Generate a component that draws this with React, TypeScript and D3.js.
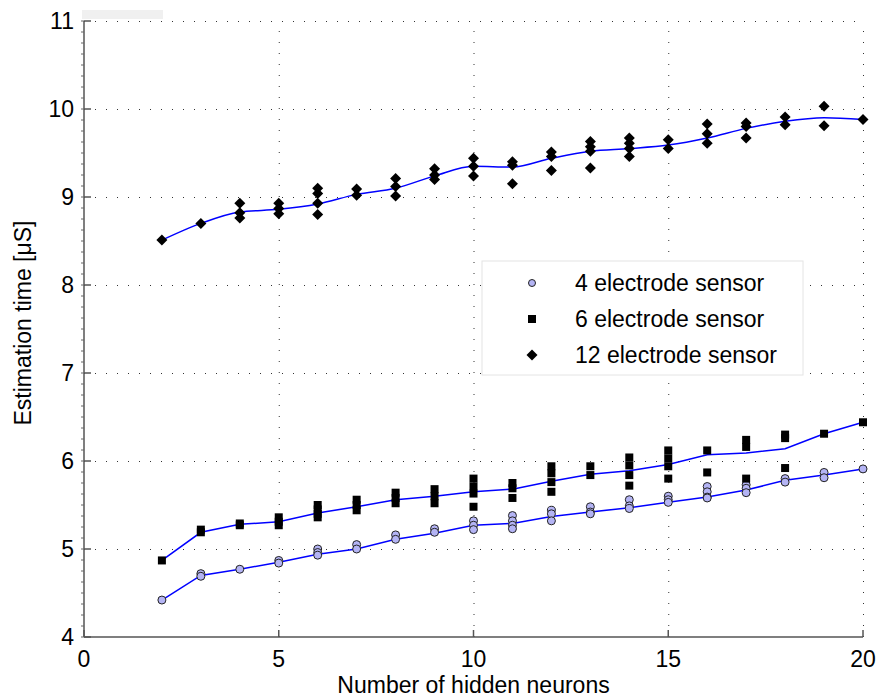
import React from 'react';
import * as d3 from 'd3';

// hidden neuron counts used on the x axis
const neurons = [2, 3, 4, 5, 6, 7, 8, 9, 10, 11, 12, 13, 14, 15, 16, 17, 18, 19, 20];

// individual runs, one list per neuron count
const runs4 = [
    [4.42], [4.72, 4.69], [4.77], [4.87, 4.84], [5.0, 4.96, 4.93], [5.05, 5.0],
    [5.16, 5.11], [5.23, 5.19], [5.32, 5.27, 5.22], [5.38, 5.32, 5.27, 5.23],
    [5.44, 5.4, 5.32], [5.48, 5.42, 5.4], [5.56, 5.49, 5.46], [5.6, 5.56, 5.53],
    [5.71, 5.65, 5.59, 5.58], [5.73, 5.69, 5.64], [5.8, 5.76], [5.87, 5.81], [5.91]
];
const runs6 = [
    [4.87], [5.22, 5.19], [5.29, 5.27], [5.36, 5.31, 5.27], [5.5, 5.45, 5.4, 5.36],
    [5.56, 5.5, 5.44], [5.64, 5.58, 5.52], [5.68, 5.6, 5.52], [5.8, 5.71, 5.63, 5.48],
    [5.75, 5.69, 5.58], [5.94, 5.86, 5.76, 5.65], [5.94, 5.84], [6.04, 5.95, 5.84, 5.72],
    [6.12, 6.03, 5.94, 5.8], [6.12, 5.87], [6.24, 6.16, 5.8], [6.3, 6.26, 5.92], [6.31], [6.44]
];
const runs12 = [
    [8.51], [8.7], [8.93, 8.82, 8.76], [8.93, 8.87, 8.81], [9.1, 9.04, 8.93, 8.8],
    [9.09, 9.02], [9.21, 9.12, 9.01], [9.32, 9.25, 9.2], [9.44, 9.35, 9.24],
    [9.4, 9.36, 9.15], [9.51, 9.46, 9.3], [9.63, 9.57, 9.52, 9.33], [9.67, 9.61, 9.55, 9.46],
    [9.65, 9.55], [9.83, 9.72, 9.61], [9.84, 9.8, 9.67], [9.91, 9.82], [10.03, 9.81], [9.88]
];

// mean curves (blue lines)
const mean4 = [4.42, 4.7, 4.77, 4.85, 4.94, 5.0, 5.11, 5.18, 5.27, 5.29, 5.37, 5.42, 5.47, 5.53, 5.59, 5.67, 5.78, 5.84, 5.91];
const mean6 = [4.87, 5.19, 5.28, 5.31, 5.41, 5.48, 5.56, 5.6, 5.65, 5.68, 5.77, 5.85, 5.89, 5.96, 6.07, 6.09, 6.14, 6.31, 6.44];
const mean12 = [8.51, 8.7, 8.83, 8.86, 8.92, 9.03, 9.1, 9.24, 9.35, 9.34, 9.44, 9.52, 9.55, 9.59, 9.67, 9.78, 9.86, 9.9, 9.88];

const xTicks = [0, 5, 10, 15, 20];
const yTicks = [4, 5, 6, 7, 8, 9, 10, 11];
const legendLabels = ['4 electrode sensor', '6 electrode sensor', '12 electrode sensor'];

const W = 877;
const H = 698;
const font = 'Arial, "Liberation Sans", sans-serif';
const fontSize = 23;

function Marker({ kind, cx, cy, r = 4 }) {
    if (kind === 'circle') {
        return <circle cx={cx} cy={cy} r={r} fill="#b4b4f4" stroke="#222" strokeWidth={1} />;
    }
    if (kind === 'square') {
        return <rect x={cx - 4} y={cy - 4} width={8} height={8} fill="#000" />;
    }
    const d = 5.5;
    return (
        <path
            d={`M${cx},${cy - d}L${cx + d},${cy}L${cx},${cy + d}L${cx - d},${cy}Z`}
            fill="#000"
        />
    );
}

export default function App() {
    const x = d3.scaleLinear().domain([0, 20]).range([84, 863]);
    const y = d3.scaleLinear().domain([4, 11]).range([637, 21]);

    const makeLine = (curve) =>
        d3
            .line()
            .x((d, i) => x(neurons[i]))
            .y((d) => y(d))
            .curve(curve);

    const series = [
        { runs: runs4, mean: mean4, kind: 'circle', curve: d3.curveLinear },
        { runs: runs6, mean: mean6, kind: 'square', curve: d3.curveLinear },
        { runs: runs12, mean: mean12, kind: 'diamond', curve: d3.curveMonotoneX }
    ];

    const minorY = d3.range(4, 11.0001, 0.125);

    return (
        <div style={{ position: 'fixed', left: 0, top: 0 }}>
            <svg width={W} height={H} style={{ display: 'block', background: '#fff' }}>
                <rect x={82} y={10} width={81} height={9} fill="#f0f0f0" />

                {/* grid */}
                <g stroke="#333" strokeWidth={1} strokeDasharray="1,10">
                    {xTicks.slice(1).map((t) => (
                        <line key={'gx' + t} x1={x(t) + 0.5} x2={x(t) + 0.5} y1={y(4)} y2={y(11)} />
                    ))}
                    {yTicks.slice(1).map((t) => (
                        <line key={'gy' + t} x1={x(0)} x2={x(20)} y1={y(t) + 0.5} y2={y(t) + 0.5} />
                    ))}
                </g>

                {/* axes */}
                <g stroke="#555" strokeWidth={1.5}>
                    <line x1={x(0)} x2={x(0)} y1={y(11)} y2={y(4)} />
                    <line x1={x(0)} x2={x(20)} y1={y(4)} y2={y(4)} />
                    {xTicks.map((t) => (
                        <line key={'tx' + t} x1={x(t)} x2={x(t)} y1={y(4)} y2={y(4) - 7} />
                    ))}
                    {yTicks.map((t) => (
                        <line key={'ty' + t} x1={x(0)} x2={x(0) + 7} y1={y(t)} y2={y(t)} />
                    ))}
                </g>
                <g stroke="#666" strokeWidth={1}>
                    {minorY.map((t) => (
                        <line key={'my' + t} x1={x(0) - 3} x2={x(0)} y1={y(t)} y2={y(t)} />
                    ))}
                </g>

                {/* tick labels */}
                <g fontFamily={font} fontSize={fontSize} fill="#000">
                    {xTicks.map((t) => (
                        <text key={'lx' + t} x={x(t)} y={y(4) + 30} textAnchor="middle">
                            {t}
                        </text>
                    ))}
                    {yTicks.map((t) => (
                        <text key={'ly' + t} x={x(0) - 10} y={y(t) + 8} textAnchor="end">
                            {t}
                        </text>
                    ))}
                </g>
                <text
                    x={x(10)}
                    y={693}
                    textAnchor="middle"
                    fontFamily={font}
                    fontSize={fontSize}
                >
                    Number of hidden neurons
                </text>
                <text
                    transform={`translate(31, 323) rotate(-90)`}
                    textAnchor="middle"
                    fontFamily={font}
                    fontSize={fontSize}
                >
                    Estimation time [μS]
                </text>

                {/* data */}
                {series.map((s, si) => (
                    <g key={'s' + si}>
                        <path
                            d={makeLine(s.curve)(s.mean)}
                            fill="none"
                            stroke="#0000ff"
                            strokeWidth={1.5}
                        />
                        {s.runs.map((vals, i) =>
                            vals.map((v, j) => (
                                <Marker key={i + '-' + j} kind={s.kind} cx={x(neurons[i])} cy={y(v)} />
                            ))
                        )}
                    </g>
                ))}

                {/* legend */}
                <g>
                    <rect x={482} y={261} width={321} height={114} fill="#fff" stroke="#e4e4e4" />
                    {legendLabels.map((label, i) => (
                        <g key={label}>
                            <Marker
                                kind={series[i].kind}
                                cx={532}
                                cy={283 + i * 36}
                                r={3.5}
                            />
                            <text
                                x={575}
                                y={283 + i * 36 + 8}
                                fontFamily={font}
                                fontSize={fontSize}
                            >
                                {label}
                            </text>
                        </g>
                    ))}
                </g>
            </svg>
        </div>
    );
}
